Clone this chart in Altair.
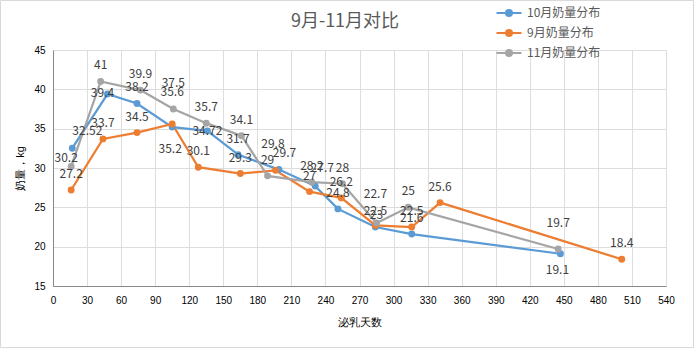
import altair as alt
import pandas as pd

# Series names, colours and the daily yield values per month
series_names = ["10月奶量分布", "9月奶量分布", "11月奶量分布"]
series_colors = ["#5b9bd5", "#ed7d31", "#a5a5a5"]

oct_days = [17, 48, 74, 105, 136, 163, 199, 231, 251, 284, 316, 447]
oct_yield = [32.52, 39.4, 38.2, 35.2, 34.72, 31.7, 29.8, 27.7, 24.8, 22.5, 21.6, 19.1]

sep_days = [16, 44, 74, 105, 128, 165, 196, 226, 254, 284, 316, 341, 501]
sep_yield = [27.2, 33.7, 34.5, 35.6, 30.1, 29.3, 29.7, 27.0, 26.2, 22.7, 22.5, 25.6, 18.4]

nov_days = [16, 42, 77, 106, 135, 166, 189, 228, 255, 285, 313, 445]
nov_yield = [30.2, 41.0, 39.9, 37.5, 35.7, 34.1, 29.0, 28.2, 28.0, 23.0, 25.0, 19.7]

x_ticks = list(range(0, 541, 30))
y_ticks = [15, 20, 25, 30, 35, 40, 45]

chart_title = "9月-11月对比"

# Data-label nudges (dx, dy in pixels) for labels that sit away from the default spot
label_nudges = {
    ("10月奶量分布", 0): (15, -17),
    ("10月奶量分布", 1): (-5, -1),
    ("10月奶量分布", 3): (-2, 22),
    ("10月奶量分布", 4): (0, 0),
    ("10月奶量分布", 6): (-6, -26),
    ("10月奶量分布", 7): (7, -18),
    ("10月奶量分布", 11): (-3, 16),
    ("11月奶量分布", 0): (-5, -8),
    ("11月奶量分布", 3): (0, -26),
    ("11月奶量分布", 9): (0, -8),
    ("11月奶量分布", 11): (0, -26),
    ("9月奶量分布", 3): (0, -32),
    ("9月奶量分布", 6): (9, -17),
    ("9月奶量分布", 9): (0, -31),
}
DEFAULT_DY = -16

FONT = "Noto Sans CJK SC"
TEXT_GREY = "#595959"
LABEL_GREY = "#404040"
GRID = "#d9d9d9"

rows = []
for name, days, ys in [
    (series_names[0], oct_days, oct_yield),
    (series_names[1], sep_days, sep_yield),
    (series_names[2], nov_days, nov_yield),
]:
    for i, (d, v) in enumerate(zip(days, ys)):
        rows.append({
            "series": name,
            "idx": i,
            "key": f"{name}#{i}",
            "day": d,
            "yield": v,
            "label": f"{v:g}",
            "nudged": (name, i) in label_nudges,
        })
df = pd.DataFrame(rows)

color_scale = alt.Scale(domain=series_names, range=series_colors)

legend_symbol = (
    "M-1.25,0L1.25,0 "
    "M-0.3,0a0.3,0.3 0 1,0 0.6,0a0.3,0.3 0 1,0 -0.6,0 "
    "M-0.12,0a0.12,0.12 0 1,0 0.24,0a0.12,0.12 0 1,0 -0.24,0"
)

x_enc = alt.X(
    "day:Q",
    scale=alt.Scale(domain=[0, 540], nice=False, zero=False),
    axis=alt.Axis(
        values=x_ticks, tickCount=len(x_ticks), title="泌乳天数", grid=True, ticks=False,
        labelPadding=9, titlePadding=11, labelFlush=False, labelOverlap=False,
        titleFontWeight=400,
    ),
)
y_enc = alt.Y(
    "yield:Q",
    scale=alt.Scale(domain=[15, 45], nice=False, zero=False),
    axis=alt.Axis(
        values=y_ticks, tickCount=len(y_ticks), title="奶量，kg", grid=True, ticks=False,
        labelPadding=8, titlePadding=8, labelOverlap=False,
        titleFontWeight=400,
    ),
)
color_enc = alt.Color(
    "series:N",
    scale=color_scale,
    legend=alt.Legend(
        orient="none", legendX=445, legendY=-48, title=None,
        symbolType=legend_symbol, symbolSize=400, symbolStrokeWidth=2,
        labelFontSize=12, labelColor=TEXT_GREY, labelFont=FONT,
        rowPadding=2, labelOffset=7, padding=0,
    ),
)

base = alt.Chart(df)

lines = base.mark_line(strokeWidth=2.25).encode(
    x=x_enc, y=y_enc, color=color_enc, order="idx:Q"
)
points = base.mark_point(filled=True, size=48, opacity=1).encode(
    x=x_enc, y=y_enc, color=color_enc
)

text_props = dict(fontSize=12, font=FONT, color=LABEL_GREY, baseline="middle", align="center")

labels_default = base.mark_text(dy=DEFAULT_DY, **text_props).encode(
    x=x_enc, y=y_enc, text="label:N"
).transform_filter("!datum.nudged")

nudged_layers = []
for (name, i), (ddx, ddy) in label_nudges.items():
    key = f"{name}#{i}"
    nudged_layers.append(
        base.mark_text(dx=ddx, dy=ddy, **text_props).encode(
            x=x_enc, y=y_enc, text="label:N"
        ).transform_filter(alt.datum.key == key)
    )

single = alt.Data(values=[{}])

# Light border around the whole chart area
frame = alt.Chart(single).mark_rect(
    fillOpacity=0, stroke=GRID, strokeWidth=1
).encode(
    x=alt.value(-52.5), x2=alt.value(640.5), y=alt.value(-49.5), y2=alt.value(297.5)
)

# Chart heading
heading = alt.Chart(single).mark_text(
    text=chart_title, font=FONT, fontSize=18, color=TEXT_GREY,
    align="center", baseline="middle",
).encode(x=alt.value(292), y=alt.value(-28))

chart = alt.layer(lines, points, labels_default, *nudged_layers, frame, heading).properties(
    width=613,
    height=236,
    autosize=alt.AutoSizeParams(type="none"),
    padding={"left": 53, "top": 50, "right": 28, "bottom": 62},
).configure_view(
    strokeWidth=0
).configure_axis(
    gridColor=GRID, gridWidth=1, domainColor="#d0d0d0", domainWidth=1,
    labelFont=FONT, labelFontSize=10.5, labelColor=TEXT_GREY,
    titleFont=FONT, titleFontSize=13, titleColor=TEXT_GREY, titleFontWeight=400,
).configure(background="white")

chart.save("out.html", embed_options={"renderer": "svg", "actions": False})
